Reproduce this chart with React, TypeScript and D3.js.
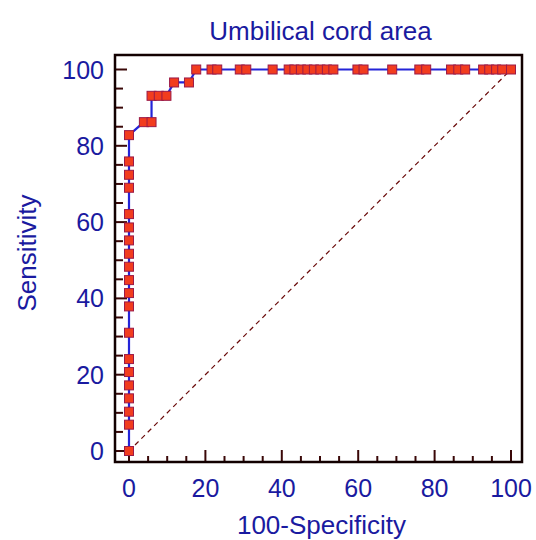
import React from "react";
import * as d3 from "d3";

// ROC points in drawing order (100-Specificity, Sensitivity)
const fprValues: number[] = [
  0, 0, 0, 0, 0, 0, 0, 0, 0, 0, 0, 0, 0, 0, 0, 0, 0, 0, 0, 0,
  3.9, 5.9, 5.9, 7.8, 9.8, 11.8, 15.7, 17.6,
  21.6, 23.1, 29.0, 30.7, 37.6, 41.8, 43.3, 45.0, 46.7, 48.4, 50.1, 51.8, 53.5,
  59.8, 61.4, 68.9, 76.0, 77.8, 84.3, 86.2, 88.0, 92.7, 94.3, 96.1, 97.7, 100,
];
const sensValues: number[] = [
  0, 6.9, 10.3, 13.8, 17.2, 20.7, 24.1, 31.0, 37.9, 41.4, 44.8, 48.3, 51.7, 55.2, 58.6, 62.1, 69.0, 72.4, 75.9, 82.8,
  86.2, 86.2, 93.1, 93.1, 93.1, 96.6, 96.6, 100,
  100, 100, 100, 100, 100, 100, 100, 100, 100, 100, 100, 100, 100,
  100, 100, 100, 100, 100, 100, 100, 100, 100, 100, 100, 100, 100,
];
const majorTicks: number[] = [0, 20, 40, 60, 80, 100];
const minorTicks: number[] = [5, 10, 15, 25, 30, 35, 45, 50, 55, 65, 70, 75, 85, 90, 95];
const diagonal: number[] = [0, 100];

const title = "Umbilical cord area";
const xTitle = "100-Specificity";
const yTitle = "Sensitivity";

export default function App() {
  const W = 536, H = 540;
  const frame = { left: 115, top: 55, right: 522, bottom: 462 };
  const x = d3.scaleLinear().domain([0, 100]).range([129, 511]);
  const y = d3.scaleLinear().domain([0, 100]).range([451, 69.5]);
  const pts = fprValues.map((f, i) => [f, sensValues[i]] as [number, number]);
  const line = d3.line<[number, number]>().x(d => x(d[0])).y(d => y(d[1]));
  const labelColor = "#1a1aa0";
  const tickColor = "#3a0808";
  const font = "'Liberation Sans', Arial, sans-serif";
  const ms = 9;

  return (
    <svg width={W} height={H} style={{ position: "absolute", left: 0, top: 0, background: "#fff" }}>
      <text x={(frame.left + frame.right) / 2 + 2} y={40} textAnchor="middle" fontFamily={font} fontSize={26} fill={labelColor}>{title}</text>
      {/* diagonal reference */}
      <line x1={x(diagonal[0]) + 6} y1={y(diagonal[0]) - 6} x2={x(diagonal[1])} y2={y(diagonal[1])} stroke="#6a0a0a" strokeWidth={1.2} strokeDasharray="5,4" />
      {/* ticks */}
      {majorTicks.map(t => (
        <g key={"mx" + t}>
          <line x1={x(t)} x2={x(t)} y1={frame.bottom} y2={frame.bottom - 12} stroke={tickColor} strokeWidth={2} />
          <line x1={frame.left} x2={frame.left + 12} y1={y(t)} y2={y(t)} stroke={tickColor} strokeWidth={2} />
          <text x={x(t)} y={497} textAnchor="middle" fontFamily={font} fontSize={25} fill={labelColor}>{t}</text>
          <text x={104} y={y(t)} dy="0.36em" textAnchor="end" fontFamily={font} fontSize={25} fill={labelColor}>{t}</text>
        </g>
      ))}
      {minorTicks.map(t => (
        <g key={"mn" + t}>
          <line x1={x(t)} x2={x(t)} y1={frame.bottom} y2={frame.bottom - 6} stroke={tickColor} strokeWidth={2} />
          <line x1={frame.left} x2={frame.left + 8} y1={y(t)} y2={y(t)} stroke={tickColor} strokeWidth={2} />
        </g>
      ))}
      {/* frame */}
      <rect x={frame.left} y={frame.top} width={frame.right - frame.left} height={frame.bottom - frame.top} fill="none" stroke="#120000" strokeWidth={2.5} />
      {/* ROC curve */}
      <path d={line(pts) || ""} fill="none" stroke="#2424d8" strokeWidth={2.2} />
      {pts.map((p, i) => (
        <rect key={i} x={x(p[0]) - ms / 2} y={y(p[1]) - ms / 2} width={ms} height={ms} fill="#f23c1e" stroke="#9a1a48" strokeWidth={1} />
      ))}
      <text x={(frame.left + frame.right) / 2 + 3} y={534} textAnchor="middle" fontFamily={font} fontSize={26} fill={labelColor}>{xTitle}</text>
      <text transform={`translate(${36},${253}) rotate(-90)`} textAnchor="middle" fontFamily={font} fontSize={26} fill={labelColor}>{yTitle}</text>
    </svg>
  );
}
